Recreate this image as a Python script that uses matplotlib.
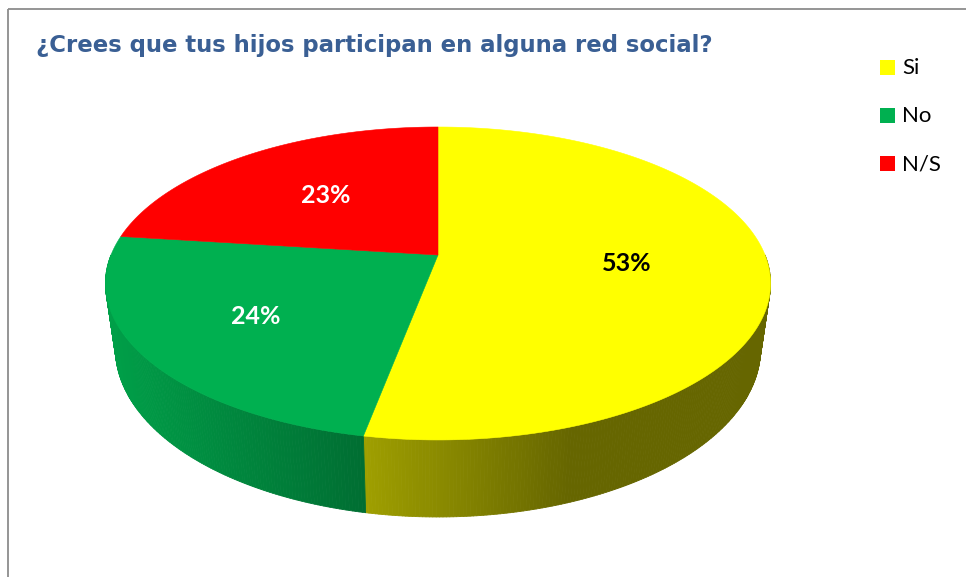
import numpy as np
import matplotlib
matplotlib.use("Agg")
import matplotlib.pyplot as plt
from matplotlib.collections import PolyCollection
from matplotlib.patches import Polygon, Rectangle
from matplotlib.colors import to_rgb

# ---- data ----
categories = ["Si", "No", "N/S"]
values = [53, 24, 23]
colors = ["#FFFF00", "#00B050", "#FF0000"]
label_colors = ["black", "white", "white"]
title = "¿Crees que tus hijos participan en alguna red social?"

# ---- geometry of the 3D pie (image pixel space) ----
W, H_img = 966, 577
X0, Y0 = 438.0, 255.0   # apex of the slices
A, B = 327.0, 151.3      # horizontal / depth scale
K = 0.182                # perspective factor
THICK = 63.0             # side thickness
SHRINK = 0.97            # convergence of bottom outline


def proj(alpha, bottom=False, r=1.0):
    u = np.sin(alpha) * r
    v = np.cos(alpha) * r
    w = 1 + K * v
    x = A * u / w
    y = -B * v / w
    if bottom:
        x = x * SHRINK
        y = y + THICK / w
    return X0 + x, Y0 + y


def shade(x):
    return float(np.clip(0.90 - (x - 110.0) * 0.5 / 460.0, 0.40, 0.93))


fig = plt.figure(figsize=(W / 100, H_img / 100), dpi=100)
ax = fig.add_axes([0, 0, 1, 1])
ax.set_xlim(0, W)
ax.set_ylim(H_img, 0)
ax.axis("off")

# frame lines (top and left)
ax.plot([8, 8], [H_img + 5, 9], color="#8c8c8c", lw=1.3, solid_capstyle="butt")
ax.plot([8, W + 5], [9, 9], color="#8c8c8c", lw=1.3, solid_capstyle="butt")

total = float(sum(values))
fracs = np.array(values) / total
starts = np.concatenate([[0.0], np.cumsum(fracs)[:-1]]) * 2 * np.pi
ends = np.cumsum(fracs) * 2 * np.pi

# ---- sides ----
side_polys, side_cols = [], []
for s, e, c in zip(starts, ends, colors):
    lo, hi = max(s, np.pi / 2), min(e, 3 * np.pi / 2)
    if hi <= lo:
        continue
    n = max(int(np.degrees(hi - lo) * 2), 2)
    a = np.linspace(lo, hi, n + 1)
    base = np.array(to_rgb(c))
    for a1, a2 in zip(a[:-1], a[1:]):
        t1 = proj(a1)
        t2 = proj(a2)
        b1 = proj(a1, bottom=True)
        b2 = proj(a2, bottom=True)
        side_polys.append([t1, t2, b2, b1])
        xm = (t1[0] + t2[0]) / 2
        side_cols.append(tuple(base * shade(xm)))
pc = PolyCollection(side_polys, facecolors=side_cols, edgecolors=side_cols,
                    linewidths=0.6, antialiased=True, zorder=2)
ax.add_collection(pc)

# ---- top faces ----
for s, e, c in zip(starts, ends, colors):
    a = np.linspace(s, e, 200)
    xs, ys = proj(a)
    pts = np.column_stack([np.r_[X0, xs], np.r_[Y0, ys]])
    ax.add_patch(Polygon(pts, closed=True, facecolor=c, edgecolor=c,
                         lw=0.4, zorder=3))

# ---- labels ----
label_r = [0.575, 0.64, 0.56]
for s, e, v, lc, r in zip(starts, ends, values, label_colors, label_r):
    m = (s + e) / 2
    lx, ly = proj(m, r=r)
    ax.text(lx, ly, f"{v}%", color=lc, fontsize=18, fontweight="bold",
            family=["Lato", "DejaVu Sans"], ha="center", va="center", zorder=5)

# ---- title ----
ax.text(36, 52, title, color="#3A5F94", fontsize=16.4, fontweight="bold",
        family=["DejaVu Sans"],
        ha="left", va="baseline", zorder=5)

# ---- legend ----
leg_y = [67.5, 115.5, 163.5]
for cat, c, y in zip(categories, colors, leg_y):
    ax.add_patch(Rectangle((880, y - 7.5), 15, 15, facecolor=c, edgecolor="none", zorder=5))
    ax.text(902, y + 1, cat, color="black", fontsize=16,
            family=["Lato", "DejaVu Sans"], ha="left", va="center", zorder=5)

fig.savefig("out.png", dpi=100)
